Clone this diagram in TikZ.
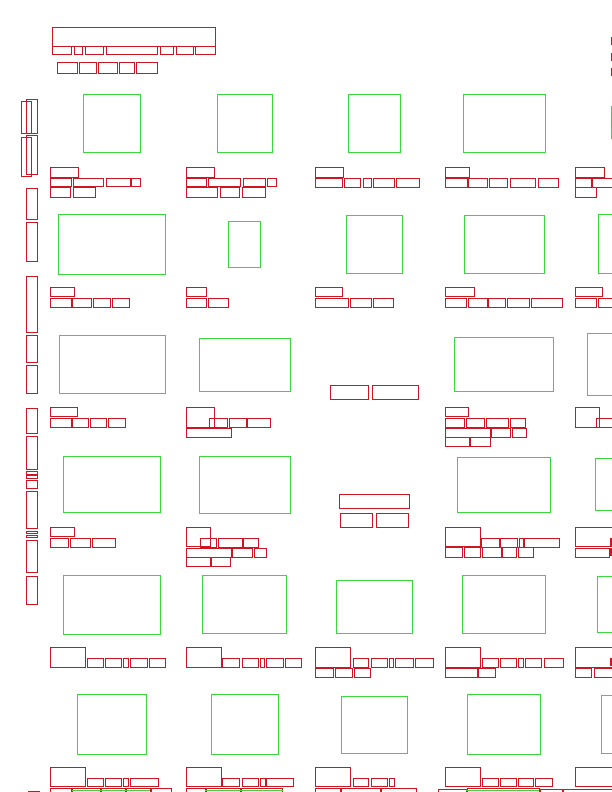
\documentclass[tikz,border=0pt]{standalone}
\usepackage{tikz}
\definecolor{boxred}{RGB}{205,22,34}
\definecolor{boxgreen}{RGB}{60,215,60}
\tikzset{
  rbox/.style={draw=boxred, line width=0.8pt},
  gbox/.style={draw=boxgreen, line width=0.8pt}
}
\newcommand{\rbx}[4]{\draw[rbox] (#1,#2) rectangle (#3,#4);}
\newcommand{\gbx}[4]{\draw[gbox] (#1,#2) rectangle (#3,#4);}
\begin{document}
\begin{tikzpicture}[x=1pt,y=-1pt]
\useasboundingbox (0,0) rectangle (612,792);
\clip (0,0) rectangle (612,792);
% ---------- header ----------
\rbx{52}{27}{215}{46}
\rbx{52}{46}{71}{54}\rbx{74}{46}{82}{54}\rbx{85}{46}{103}{54}\rbx{106}{46}{157}{54}
\rbx{160}{46}{173}{54}\rbx{176}{46}{193}{54}\rbx{195}{46}{215}{54}
\rbx{57}{62}{77}{73}\rbx{79}{62}{96}{73}\rbx{98}{62}{117}{73}\rbx{119}{62}{134}{73}\rbx{136}{62}{157}{73}
% right edge top
\rbx{611}{37}{616}{44}\rbx{611}{53}{616}{60}\rbx{611}{68}{616}{75}
% ---------- left column ----------
\rbx{21.5}{101}{31.5}{133.5}\rbx{26.5}{99.5}{37}{133}
\rbx{21.5}{137.5}{31.5}{176}\rbx{26.5}{135.5}{37}{174}
\rbx{26.5}{188}{37}{219}\rbx{26.5}{222}{37}{261}\rbx{26.5}{276}{37}{332}
\rbx{26.5}{335}{37}{362}\rbx{26.5}{365}{37}{393}\rbx{26.5}{408}{37}{433}
\rbx{26.5}{436}{37}{469}\rbx{26.5}{471.5}{37}{474}\rbx{26.5}{475.5}{37}{478}
\rbx{26.5}{480}{37}{488}\rbx{26.5}{491}{37}{528}\rbx{26.5}{531}{37}{533}
\rbx{26.5}{535}{37}{537.5}\rbx{26.5}{540}{37}{572}\rbx{26.5}{576}{37}{604}
\draw[rbox] (28,791) -- (40,791);
% ---------- row 1 ----------
\gbx{83.3}{94.3}{140.3}{152.7}
\gbx{217.3}{94.3}{272.3}{152.7}
\gbx{348.3}{94.3}{400.7}{152.7}
\gbx{463.3}{94.3}{545}{152.7}
\gbx{611}{106}{616}{138}
% captions row 1
\rbx{50.3}{167.3}{78.7}{177.3}
\rbx{50.3}{178.3}{71.3}{186.7}\rbx{73.3}{178.3}{103.3}{186.7}\rbx{106.7}{178.3}{130}{186.7}\rbx{131}{178.3}{140.3}{186.7}
\rbx{50.3}{187.3}{70.7}{197}\rbx{73}{187.3}{95.7}{197}
\rbx{186}{167.3}{214.3}{177.3}
\rbx{186}{178.3}{206.7}{186.7}\rbx{208}{178.3}{240}{186.7}\rbx{243}{178.3}{265.7}{186.7}\rbx{267.3}{178.3}{276.7}{186.7}
\rbx{186}{187.3}{217}{197}\rbx{220}{187.3}{239.3}{197}\rbx{242.3}{187.3}{265.7}{197}
\rbx{315.3}{167.3}{343.7}{177.3}
\rbx{315.3}{178.3}{342.3}{187.3}\rbx{344.3}{178.3}{360.3}{187.3}\rbx{363.3}{178.3}{371.3}{187.3}\rbx{373.7}{178.3}{394.7}{187.3}\rbx{396.7}{178.3}{419.3}{187.3}
\rbx{445.3}{167.3}{469.7}{177.3}
\rbx{445.3}{178.3}{467}{187.3}\rbx{468.7}{178.3}{487}{187.3}\rbx{489}{178.3}{507.7}{187.3}\rbx{510}{178.3}{535.3}{187.3}\rbx{538}{178.3}{558.7}{187.3}
\rbx{575.3}{167.3}{604.7}{177.3}
\rbx{575.3}{178.3}{591.7}{187.3}\rbx{592.7}{178.3}{616}{187.3}
\rbx{575.3}{187.3}{596.3}{197.3}
% ---------- row 2 ----------
\gbx{58.3}{214.3}{165.3}{274}
\gbx{228.3}{221.3}{260.3}{267.3}
\gbx{346.3}{215}{402.3}{273}
\gbx{464.3}{215}{544.3}{273}
\gbx{598.5}{214.5}{616}{273}
\rbx{50.3}{287.3}{74.3}{296.7}
\rbx{50.3}{298}{71}{307.3}\rbx{72.7}{298}{91.7}{307.3}\rbx{93.3}{298}{110}{307.3}\rbx{112}{298}{129.3}{307.3}
\rbx{186}{287.3}{206.3}{296.7}
\rbx{186}{298}{206.7}{307.3}\rbx{208}{298}{228.3}{307.3}
\rbx{315.3}{287.3}{342.3}{296.7}
\rbx{315.3}{298}{348.7}{307.3}\rbx{350.7}{298}{371.3}{307.3}\rbx{373.7}{298}{393.3}{307.3}
\rbx{445.3}{287.3}{474.3}{296.7}
\rbx{445.3}{298}{466}{307.3}\rbx{468}{298}{487}{307.3}\rbx{488.7}{298}{505}{307.3}\rbx{507}{298}{529}{307.3}\rbx{531.3}{298}{562.3}{307.3}
\rbx{575.3}{287.3}{602}{296.7}
\rbx{575.3}{298}{596}{307.3}\rbx{598}{298}{616}{307.3}
% ---------- row 3 ----------
\gbx{59.3}{335}{165.3}{393}
\gbx{199}{338.3}{290.7}{391.3}
\rbx{330.3}{385}{368}{399.3}\rbx{372}{385}{418.7}{399.3}
\gbx{454.3}{337}{553}{391.3}
\gbx{587.3}{333.3}{616}{395}
\rbx{50.3}{407.3}{77.7}{416.7}
\rbx{50.3}{418.3}{71}{427.3}\rbx{72.7}{418.3}{88.3}{427.3}\rbx{90.3}{418.3}{106.7}{427.3}\rbx{108.3}{418.3}{125.7}{427.3}
\rbx{186}{407.3}{214.3}{427.3}
\rbx{209.3}{418.3}{227.7}{427.3}\rbx{229.3}{418.3}{246}{427.3}\rbx{247.7}{418.3}{270.3}{427.3}
\rbx{186}{428.3}{231}{437.3}
\rbx{445.3}{407.3}{468.7}{416.7}
\rbx{445.3}{418.3}{464.7}{427.3}\rbx{466}{418.3}{484.7}{427.3}\rbx{486.3}{418.3}{508.3}{427.3}\rbx{510}{418.3}{525.3}{427.3}
\rbx{445.3}{428.3}{490.3}{437.3}\rbx{491.7}{428.3}{510.7}{437.3}\rbx{512.3}{428.3}{526.3}{437.3}
\rbx{445.3}{437.7}{469}{446.7}\rbx{470.7}{437.7}{490.3}{446.7}
\rbx{575.3}{407.3}{599.3}{427.3}
\rbx{596.7}{418.3}{616}{427.3}
% ---------- row 4 ----------
\gbx{63.3}{456.3}{160.7}{512.7}
\gbx{199}{456.3}{290.7}{513.7}
\rbx{339.3}{494.3}{409.7}{508.3}
\rbx{340.3}{513.3}{372.3}{527.3}\rbx{376.3}{513.3}{408.7}{527.3}
\gbx{457.3}{457.3}{550.7}{512.7}
\gbx{595.3}{458.3}{616}{510.3}
\rbx{50.3}{527.3}{74.7}{536.7}
\rbx{50.3}{538}{68.7}{547.3}\rbx{70.7}{538}{90}{547.3}\rbx{92}{538}{115.3}{547.3}
\rbx{186}{527.3}{210.7}{546.7}
\rbx{200}{538}{216.7}{547.3}\rbx{218.3}{538}{242.3}{547.3}\rbx{243.7}{538}{258.3}{547.3}
\rbx{186}{548}{231}{557.3}\rbx{232.3}{548}{252.3}{557.3}\rbx{254}{548}{266.7}{557.3}
\rbx{186}{557.3}{210.3}{566.7}\rbx{211.7}{557.3}{230.7}{566.7}
\rbx{445.3}{527.3}{480.3}{546.7}
\rbx{481.7}{538}{499.3}{547.3}\rbx{500.7}{538}{517}{547.3}\rbx{519.3}{538}{523}{547.3}\rbx{524.3}{538}{559.3}{547.3}
\rbx{445.3}{547.5}{462.7}{557.3}\rbx{464}{547.5}{480.7}{557.3}\rbx{482.7}{547.5}{501}{557.3}\rbx{502.7}{547.5}{516}{557.3}\rbx{518}{547.5}{533.3}{557.3}
\rbx{575.3}{527.3}{616}{546.7}
\rbx{575.3}{548}{609.3}{557.3}
\fill[boxred] (610,538) rectangle (612,546.7);
\fill[boxred] (610,548) rectangle (612,555.5);
% ---------- row 5 ----------
\gbx{63.3}{575.3}{160.7}{634}
\gbx{202.3}{575.3}{286.7}{633}
\gbx{336.3}{580.7}{412.7}{633}
\gbx{462.3}{575}{545.3}{633}
\gbx{597.7}{576.3}{616}{632.3}
\rbx{50.3}{647.3}{85.3}{667.3}
\rbx{87}{658.3}{103}{667.3}\rbx{105.3}{658.3}{121}{667.3}\rbx{123}{658.3}{128.3}{667.3}\rbx{130}{658.3}{147}{667.3}\rbx{149}{658.3}{165.3}{667.3}
\rbx{186}{647.3}{221.3}{667.3}
\rbx{222.7}{658.3}{239}{667.3}\rbx{242}{658.3}{258}{667.3}\rbx{260}{658.3}{264.7}{667.3}\rbx{266}{658.3}{283.3}{667.3}\rbx{285}{658.3}{301.7}{667.3}
\rbx{315.3}{647.3}{350.3}{667.3}
\rbx{353.3}{658.3}{368.7}{667.3}\rbx{371}{658.3}{387.3}{667.3}\rbx{389.7}{658.3}{393.3}{667.3}\rbx{395.3}{658.3}{413.3}{667.3}\rbx{415.3}{658.3}{433.3}{667.3}
\rbx{315.3}{668}{333.7}{677.3}\rbx{335.7}{668}{352}{677.3}\rbx{354}{668}{370}{677.3}
\rbx{445.3}{647.3}{480.3}{667.3}
\rbx{482}{658.3}{498}{667.3}\rbx{500.3}{658.3}{516.7}{667.3}\rbx{518.7}{658.3}{523.3}{667.3}\rbx{525.3}{658.3}{541.7}{667.3}\rbx{544}{658.3}{563.3}{667.3}
\rbx{445.3}{668}{477}{677.3}\rbx{478.3}{668}{495.3}{677.3}
\rbx{575.3}{647.3}{616}{667.3}
\rbx{575.3}{668}{591.7}{677.3}\rbx{594.3}{668}{616}{677.3}
\fill[boxred] (610,658) rectangle (612,666);
% ---------- row 6 ----------
\gbx{77.3}{694.3}{146.3}{754.3}
\gbx{211.3}{694.3}{278.3}{754.3}
\gbx{341.3}{696.7}{407.3}{753.3}
\gbx{467.3}{694.3}{540.7}{754.3}
\gbx{601.3}{695.7}{616}{753.3}
\rbx{50.3}{767.3}{85.3}{786.7}
\rbx{87}{778.3}{103}{786.7}\rbx{105.3}{778.3}{121}{786.7}\rbx{123}{778.3}{128.3}{786.7}\rbx{130}{778.3}{158.3}{786.7}
\rbx{186}{767.3}{221.3}{786.7}
\rbx{222.7}{778.3}{239}{786.7}\rbx{242}{778.3}{258}{786.7}\rbx{260}{778.3}{265}{786.7}\rbx{266}{778.3}{293.3}{786.7}
\rbx{315.3}{767.3}{350.3}{786.7}
\rbx{353.3}{778.3}{368.7}{786.7}\rbx{371}{778.3}{387.3}{786.7}\rbx{389.3}{778.3}{394.7}{786.7}
\rbx{445.3}{767.3}{480.3}{786.7}
\rbx{482}{778.3}{498}{786.7}\rbx{500.3}{778.3}{516.7}{786.7}\rbx{518.7}{778.3}{533.3}{786.7}\rbx{535.3}{778.3}{552.7}{786.7}
\rbx{575.3}{767.3}{616}{786.7}
% bottom strip
\rbx{50.3}{788}{71.5}{795}\rbx{72}{788}{100}{795}\rbx{101}{788}{125}{795}\rbx{126}{788}{150}{795}\rbx{151}{788}{171.7}{795}
\draw[gbox] (71.7,790.5) -- (150,790.5);
\rbx{186}{788}{205}{795}\rbx{206}{788}{240}{795}\rbx{241}{788}{282.7}{795}
\draw[gbox] (205,790.5) -- (282.7,790.5);
\rbx{315.3}{788}{340}{795}\rbx{341}{788}{380}{795}\rbx{381}{788}{416}{795}
\rbx{438}{789}{466}{795}\rbx{467}{788}{539}{795}\rbx{540}{789}{563}{795}
\draw[gbox] (466,790.5) -- (539,790.5);
\rbx{562.7}{789}{616}{795}
\end{tikzpicture}
\end{document}
